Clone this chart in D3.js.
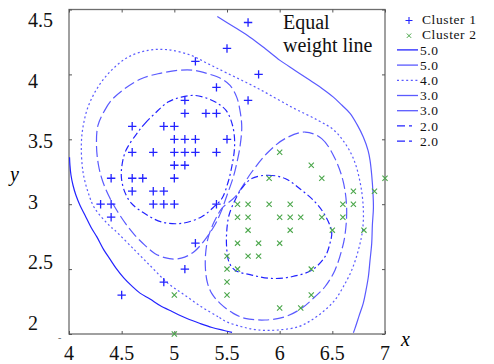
<!DOCTYPE html>
<html><head><meta charset="utf-8">
<script src="https://cdn.jsdelivr.net/npm/d3@7"></script>
<style>body{margin:0;background:#fff}svg{display:block}</style></head>
<body>
<svg id="c" width="494" height="364"></svg>
<script>
const xTicks = [4, 4.5, 5, 5.5, 6, 6.5, 7];
const yTicks = [2, 2.5, 3, 3.5, 4, 4.5];

const cluster1 = [[5.7,4.4],[5.5,4.2],[5.2,4.1],[5.8,4.0],[5.4,3.9],[5.7,3.8],[5.1,3.8],[5.1,3.7],[5.3,3.7],[5.4,3.7],
  [4.6,3.6],[4.9,3.6],[5.0,3.6],[5.0,3.5],[5.1,3.5],[5.2,3.5],[5.5,3.5],[4.6,3.4],[4.8,3.4],[5.0,3.4],[5.1,3.4],[5.2,3.4],
  [5.4,3.4],[5.0,3.3],[5.1,3.3],[4.4,3.2],[4.6,3.2],[4.7,3.2],[5.0,3.2],[4.6,3.1],[4.8,3.1],[4.9,3.1],[4.3,3.0],[4.4,3.0],
  [4.8,3.0],[4.9,3.0],[5.0,3.0],[5.4,3.0],[4.4,2.9],[5.2,2.7],[5.1,2.5],[4.9,2.4],[4.5,2.3]];

const cluster2 = [[7.0,3.2],[6.4,3.2],[6.9,3.1],[5.5,2.3],[6.5,2.8],[5.7,2.8],[6.3,3.3],[6.6,2.9],[5.0,2.0],[5.9,3.0],
  [6.0,2.2],[6.1,2.9],[5.6,2.9],[6.7,3.1],[5.6,3.0],[5.8,2.7],[6.2,2.2],[5.6,2.5],[5.9,3.2],[6.1,2.8],[6.3,2.5],[6.4,2.9],
  [6.6,3.0],[6.8,2.8],[6.7,3.0],[6.0,2.9],[5.7,2.6],[5.5,2.4],[6.0,2.7],[6.0,3.4],[6.3,2.3],[5.5,2.5],[5.5,2.6],[6.1,3.0],
  [5.8,2.6],[5.0,2.3],[5.6,2.7],[5.7,3.0],[5.7,2.9],[6.2,2.9]];

// contour lines (data units)
const level5Left = [[4.005,3.362],[4.009,3.30],[4.019,3.223],[4.038,3.146],[4.066,3.069],[4.104,2.992],[4.152,2.915],
  [4.209,2.823],[4.266,2.746],[4.332,2.646],[4.389,2.577],[4.446,2.508],[4.522,2.431],[4.598,2.369],[4.674,2.315],
  [4.769,2.269],[4.864,2.219],[4.978,2.173],[5.12,2.119],[5.244,2.081],[5.358,2.05],[5.472,2.027],[5.548,2.012]];
const level5Right = [[5.408,4.446],[5.576,4.361],[5.718,4.287],[5.861,4.2],[6.003,4.108],[6.146,4.031],[6.288,3.954],
  [6.402,3.892],[6.51,3.825],[6.592,3.762],[6.668,3.70],[6.734,3.615],[6.794,3.518],[6.839,3.415],[6.858,3.338],
  [6.874,3.223],[6.886,3.085],[6.89,2.97],[6.88,2.838],[6.874,2.70],[6.858,2.569],[6.842,2.441],[6.82,2.338],
  [6.794,2.238],[6.753,2.138],[6.715,2.043],[6.70,2.01]];
const level4 = [[5.5,2.092],[5.415,2.133],[5.256,2.21],[5.098,2.30],[4.94,2.39],[4.781,2.518],[4.624,2.646],[4.434,2.80],
  [4.389,2.831],[4.244,2.969],[4.18,3.095],[4.133,3.248],[4.117,3.454],[4.133,3.595],[4.18,3.748],[4.275,3.902],
  [4.402,4.031],[4.56,4.133],[4.75,4.185],[4.94,4.19],[5.161,4.146],[5.32,4.082],[5.495,4.012],[5.794,3.892],
  [6.114,3.748],[6.364,3.646],[6.506,3.577],[6.601,3.492],[6.699,3.354],[6.763,3.172],[6.794,2.969],[6.787,2.80],
  [6.747,2.646],[6.684,2.492],[6.604,2.364],[6.525,2.262],[6.43,2.185],[6.304,2.108],[6.177,2.056],[5.987,2.031],
  [5.797,2.031],[5.64,2.056]];
const level3Left = [[4.275,3.608],[4.339,3.723],[4.402,3.80],[4.529,3.89],[4.686,3.967],[4.845,4.005],[5.035,4.031],
  [5.193,4.031],[5.32,4.005],[5.446,3.967],[5.529,3.915],[5.592,3.825],[5.623,3.723],[5.64,3.595],[5.623,3.441],
  [5.592,3.313],[5.56,3.21],[5.50,3.069],[5.443,2.941],[5.383,2.838],[5.288,2.723],[5.193,2.638],[5.098,2.592],
  [5.004,2.577],[4.909,2.588],[4.814,2.621],[4.719,2.685],[4.624,2.762],[4.541,2.846],[4.465,2.938],[4.389,3.046],
  [4.323,3.169],[4.28,3.30],[4.261,3.454]];
const level3Right = [[6.241,3.556],[6.399,3.505],[6.525,3.352],[6.604,3.172],[6.636,2.969],[6.62,2.762],[6.589,2.646],
  [6.525,2.492],[6.43,2.364],[6.335,2.287],[6.209,2.198],[6.051,2.133],[5.861,2.108],[5.671,2.121],[5.56,2.159],
  [5.434,2.236],[5.355,2.313],[5.315,2.392],[5.296,2.492],[5.296,2.608],[5.32,2.738],[5.377,2.862],[5.453,2.969],
  [5.576,3.056],[5.735,3.248],[5.892,3.402],[6.051,3.505]];
const level2Left = [[4.655,3.556],[4.722,3.623],[4.814,3.698],[4.94,3.787],[5.066,3.825],[5.193,3.838],[5.32,3.813],
  [5.415,3.775],[5.491,3.723],[5.538,3.646],[5.567,3.546],[5.571,3.431],[5.548,3.30],[5.51,3.169],[5.453,3.046],
  [5.383,2.985],[5.256,2.902],[5.066,2.852],[4.876,2.864],[4.719,2.928],[4.591,3.008],[4.529,3.095],[4.498,3.20],
  [4.503,3.30],[4.541,3.415]];
const level2Right = [[5.735,3.198],[5.892,3.223],[6.051,3.198],[6.209,3.108],[6.335,3.018],[6.43,2.915],[6.494,2.787],
  [6.478,2.70],[6.43,2.595],[6.304,2.492],[6.114,2.441],[5.924,2.428],[5.735,2.454],[5.576,2.492],[5.519,2.554],
  [5.497,2.662],[5.497,2.785],[5.519,2.915],[5.576,3.031],[5.642,3.123]];

const legendLabels = ["Cluster 1","Cluster 2","5.0","5.0","4.0","3.0","3.0","2.0","2.0"];

const x = d3.scaleLinear().domain([4, 7]).range([69, 385]);
const y = d3.scaleLinear().domain([2, 4.5]).range([334, 9.5]);
const yLab = d3.scaleLinear().domain([2, 4.5]).range([323, 20]);
const svg = d3.select("#c");
const FONT = "'Liberation Serif','Times New Roman',serif";
const BLUE = "#2323ff", BLUE2 = "#5a5aff", GREEN = "#4aa64a";

const styles = {
  s5a: {c: BLUE, d: null},
  s5b: {c: BLUE2, d: null},
  s4: {c: BLUE2, d: "2,2.6"},
  s3a: {c: BLUE2, d: "11,4"},
  s3b: {c: BLUE2, d: "11,4"},
  s2a: {c: BLUE, d: "7,3,2,3"},
  s2b: {c: BLUE, d: "7,3,2,3"}
};

// frame
svg.append("rect").attr("x", x(4)).attr("y", y(4.5)).attr("width", x(7) - x(4)).attr("height", y(2) - y(4.5))
  .attr("fill", "none").attr("stroke", "#6e6e6e").attr("stroke-width", 1.3);

// ticks (inward) on all four sides
function styleAxis(g){ g.select(".domain").remove(); g.selectAll("line").attr("stroke","#555"); }
svg.append("g").attr("transform", `translate(0,${y(2)})`).call(d3.axisBottom(x).tickValues(xTicks).tickSize(-3).tickFormat("")).call(styleAxis);
svg.append("g").attr("transform", `translate(0,${y(4.5)})`).call(d3.axisTop(x).tickValues(xTicks).tickSize(-3).tickFormat("")).call(styleAxis);
svg.append("g").attr("transform", `translate(${x(4)},0)`).call(d3.axisLeft(y).tickValues(yTicks).tickSize(-3).tickFormat("")).call(styleAxis);
svg.append("g").attr("transform", `translate(${x(7)},0)`).call(d3.axisRight(y).tickValues(yTicks).tickSize(-3).tickFormat("")).call(styleAxis);

// tick labels
svg.append("g").selectAll("text").data(xTicks).join("text")
  .attr("x", d => x(d)).attr("y", 360).attr("text-anchor", "middle")
  .attr("font-family", FONT).attr("font-size", 20).attr("fill", "#111").text(d => d3.format("")(d));
svg.append("g").selectAll("text").data(yTicks).join("text")
  .attr("x", 28).attr("y", d => yLab(d)).attr("dy", "0.35em").attr("text-anchor", "start")
  .attr("font-family", FONT).attr("font-size", 20).attr("fill", "#111").text(d => d3.format("")(d));
svg.append("text").attr("x", 58).attr("y", 341).attr("font-family", FONT).attr("font-size", 10).attr("fill", "#666").text("-");

// axis titles
svg.append("text").attr("x", 401).attr("y", 346).attr("font-family", FONT).attr("font-style", "italic").attr("font-size", 20).text("x");
svg.append("text").attr("x", 10).attr("y", 181).attr("font-family", FONT).attr("font-style", "italic").attr("font-size", 20).text("y");

// contours
const plot = svg.append("g");
const lineOpen = d3.line().x(d => x(d[0])).y(d => y(d[1])).curve(d3.curveCatmullRom.alpha(0.5));
const lineClosed = d3.line().x(d => x(d[0])).y(d => y(d[1])).curve(d3.curveCatmullRomClosed.alpha(0.5));
const curves = [
  {d: level5Left, s: styles.s5a, closed: false},
  {d: level5Right, s: styles.s5b, closed: false},
  {d: level4, s: styles.s4, closed: true},
  {d: level3Left, s: styles.s3a, closed: true},
  {d: level3Right, s: styles.s3b, closed: true},
  {d: level2Left, s: styles.s2a, closed: true},
  {d: level2Right, s: styles.s2b, closed: true}
];
plot.selectAll("path.ct").data(curves).join("path").attr("class", "ct")
  .attr("d", c => (c.closed ? lineClosed : lineOpen)(c.d))
  .attr("fill", "none").attr("stroke", c => c.s.c).attr("stroke-width", 1.2)
  .attr("stroke-dasharray", c => c.s.d);

// markers
const plusPath = (cx, cy, r) => `M${cx - r},${cy}H${cx + r}M${cx},${cy - r}V${cy + r}`;
const crossPath = (cx, cy, r) => `M${cx - r},${cy - r}L${cx + r},${cy + r}M${cx - r},${cy + r}L${cx + r},${cy - r}`;
plot.selectAll("path.c1").data(cluster1).join("path").attr("class", "c1")
  .attr("d", d => plusPath(x(d[0]), y(d[1]), 4.2)).attr("stroke", BLUE).attr("stroke-width", 1.3).attr("fill", "none");
plot.selectAll("path.c2").data(cluster2).join("path").attr("class", "c2")
  .attr("d", d => crossPath(x(d[0]), y(d[1]), 2.6)).attr("stroke", GREEN).attr("stroke-width", 1.1).attr("fill", "none");

// annotation
svg.append("text").attr("x", 283).attr("y", 29).attr("font-family", FONT).attr("font-size", 20).attr("fill", "#111").text("Equal");
svg.append("text").attr("x", 283).attr("y", 52).attr("font-family", FONT).attr("font-size", 20).attr("fill", "#111").text("weight line");

// legend
const legendStyles = [null, null, styles.s5a, styles.s5b, styles.s4, styles.s3a, styles.s3b, styles.s2a, styles.s2b];
const lg = svg.append("g");
const rowY = i => 19.5 + 15.2 * i;
legendLabels.forEach((lab, i) => {
  const yy = rowY(i);
  if (i === 0) lg.append("path").attr("d", plusPath(409, yy + 1, 3.5)).attr("stroke", BLUE).attr("stroke-width", 1.1);
  else if (i === 1) lg.append("path").attr("d", crossPath(409, yy + 1, 2.2)).attr("stroke", GREEN).attr("stroke-width", 1);
  else {
    const st = legendStyles[i];
    lg.append("line").attr("x1", 397).attr("x2", 418).attr("y1", yy).attr("y2", yy)
      .attr("stroke", st.c).attr("stroke-width", 1.3).attr("stroke-dasharray", st.d === "11,4" ? null : (st.d === "7,3,2,3" ? "8,4,3,20" : st.d));
  }
  lg.append("text").attr("x", i < 2 ? 422 : 420).attr("y", yy).attr("dy", "0.35em")
    .attr("font-family", FONT).attr("font-size", 13.5).attr("letter-spacing", 0.6).attr("fill", "#111").text(lab);
});
</script>
</body></html>
